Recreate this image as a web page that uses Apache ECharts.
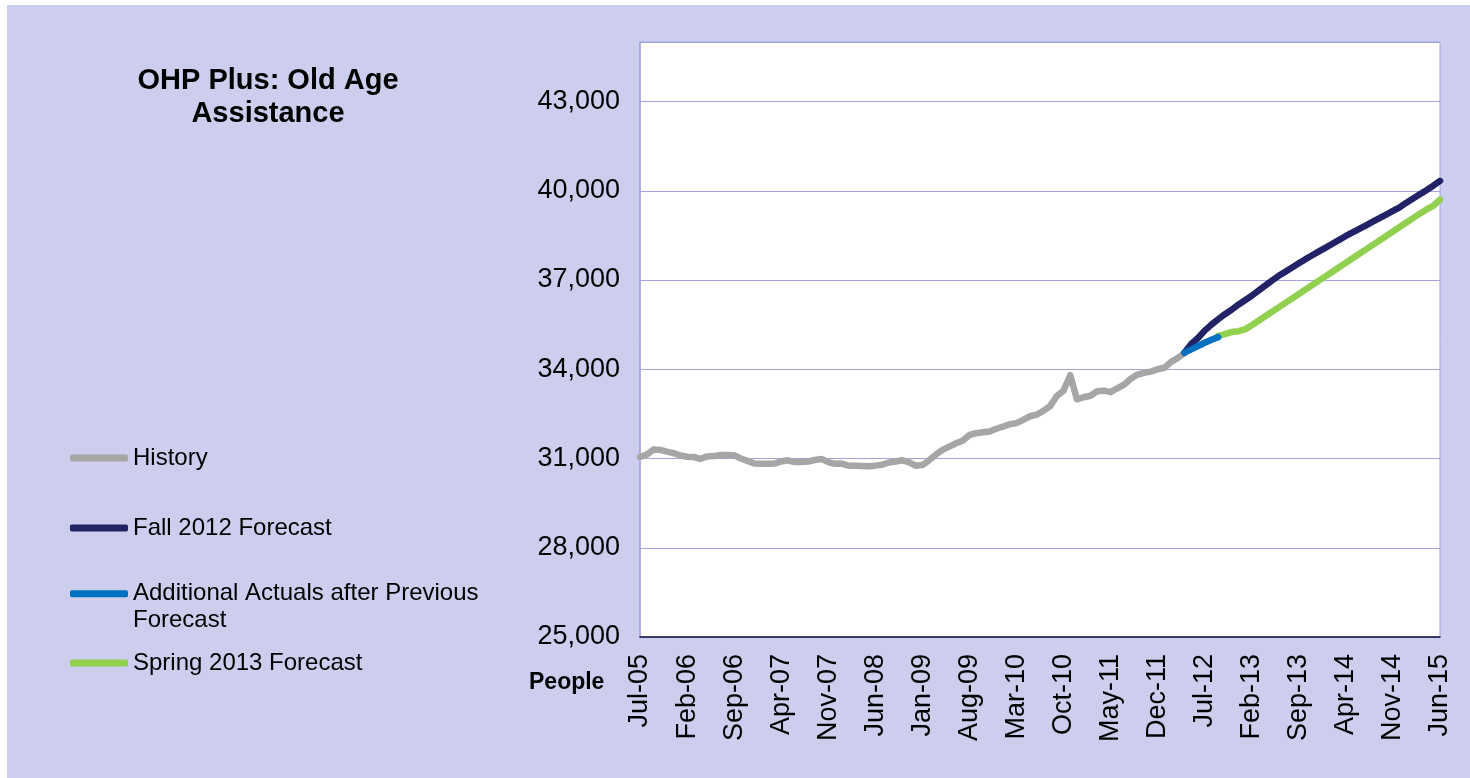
<!DOCTYPE html>
<html style="height:100%">
<head>
    <meta charset="UTF-8">
    <title>OHP Plus: Old Age Assistance</title>
    <script src="https://cdn.jsdelivr.net/npm/echarts@6/dist/echarts.min.js"></script>
</head>
<body style="height:100%;margin:0;background:#ffffff">
    <div id="main" style="width:1470px;height:778px;"></div>
    <script>
        // months Jul-05 .. Jun-15
        var monthNames = ['Jan', 'Feb', 'Mar', 'Apr', 'May', 'Jun', 'Jul', 'Aug', 'Sep', 'Oct', 'Nov', 'Dec'];
        var months = [];
        for (var k = 0; k < 120; k++) {
            var m = (6 + k) % 12;
            var yr = 5 + Math.floor((6 + k) / 12);
            months.push(monthNames[m] + '-' + (yr < 10 ? '0' + yr : '' + yr));
        }

        // History: Jul-05 .. Apr-12
        var historyStart = 0;
        var historyValues = [
            31050, 31130, 31300, 31290, 31230, 31180, 31100, 31060, 31050, 30990,
            31070, 31080, 31120, 31120, 31110, 31000, 30920, 30830, 30820, 30820,
            30830, 30900, 30940, 30880, 30880, 30900, 30950, 30980, 30880, 30820,
            30830, 30760, 30760, 30750, 30740, 30760, 30790, 30860, 30900, 30940,
            30880, 30760, 30780, 30940, 31130, 31290, 31400, 31510, 31600, 31790,
            31850, 31880, 31910, 32000, 32070, 32150, 32190, 32300, 32420, 32470,
            32600, 32760, 33100, 33280, 33800, 32990, 33060, 33110, 33260, 33280,
            33230, 33360, 33480, 33680, 33820, 33880, 33920, 34000, 34050, 34250,
            34380, 34540
        ];

        // Fall 2012 Forecast: Apr-12 .. Jun-15
        var fallStart = 81;
        var fallValues = [
            34560, 34850, 35050, 35300, 35500, 35680, 35850, 36000, 36170, 36320,
            36470, 36640, 36810, 36980, 37140, 37280, 37420, 37560, 37700, 37830,
            37960, 38090, 38220, 38350, 38480, 38600, 38720, 38840, 38960, 39080,
            39200, 39320, 39440, 39600, 39740, 39880, 40020, 40170, 40330
        ];

        // Additional Actuals after Previous Forecast: Apr-12 .. Sep-12
        var actualsStart = 81;
        var actualsValues = [34560, 34670, 34780, 34890, 34990, 35080];

        // Spring 2013 Forecast: Sep-12 .. Jun-15
        var springStart = 86;
        var springValues = [
            35120, 35180, 35250, 35280, 35340, 35480, 35630, 35780, 35930, 36080,
            36230, 36380, 36530, 36680, 36830, 36980, 37130, 37280, 37430, 37580,
            37730, 37880, 38030, 38180, 38330, 38480, 38630, 38780, 38930, 39080,
            39230, 39370, 39490, 39700
        ];

        function pad(start, vals) {
            var out = [];
            for (var i = 0; i < months.length; i++) {
                var j = i - start;
                out.push(j >= 0 && j < vals.length ? vals[j] : null);
            }
            return out;
        }

        var chart = echarts.init(document.getElementById('main'), null, { renderer: 'canvas' });

        var font = 'Liberation Sans, Arial, sans-serif';
        var gridColor = '#a3a3e2';

        function lineSeries(name, color, data, z) {
            return {
                name: name,
                type: 'line',
                data: data,
                showSymbol: false,
                symbol: 'none',
                color: color,
                z: z,
                animation: false,
                lineStyle: { width: 6.5, color: color, cap: 'round', join: 'round' }
            };
        }

        function legendAt(name, top, extra) {
            var l = {
                data: [name],
                left: 70,
                top: top,
                padding: 0,
                icon: 'roundRect',
                itemWidth: 58,
                itemHeight: 7,
                selectedMode: false,
                textStyle: { fontFamily: font, fontSize: 24, color: '#000' }
            };
            if (extra) {
                for (var key in extra) l[key] = extra[key];
            }
            return l;
        }

        var option = {
            backgroundColor: '#ffffff',
            animation: false,
            graphic: [{
                type: 'rect',
                z: -100,
                shape: { x: 7, y: 5, width: 1463, height: 773 },
                style: { fill: '#cdcdee' }
            }],
            title: [{
                text: 'OHP Plus: Old Age\nAssistance',
                left: 268,
                top: 64,
                padding: 0,
                textAlign: 'center',
                textStyle: { fontFamily: font, fontSize: 29, fontWeight: 'bold', color: '#000', lineHeight: 33 }
            }, {
                text: 'People',
                left: 529,
                top: 671,
                padding: 0,
                textStyle: { fontFamily: font, fontSize: 23, fontWeight: 'bold', color: '#000' }
            }],
            legend: [
                legendAt('History', 446),
                legendAt('Fall 2012 Forecast', 516),
                // empty first line keeps the icon level with the first text line
                legendAt('Additional Actuals after Previous Forecast', 554, {
                    formatter: function () { return ' \nAdditional Actuals after Previous\nForecast'; },
                    textStyle: { fontFamily: font, fontSize: 24, color: '#000', lineHeight: 26.5 }
                }),
                legendAt('Spring 2013 Forecast', 651)
            ],
            grid: {
                left: 640,
                right: 30,
                top: 42,
                bottom: 141,
                show: true,
                backgroundColor: '#ffffff',
                borderColor: gridColor,
                borderWidth: 1
            },
            xAxis: {
                type: 'category',
                data: months,
                boundaryGap: false,
                axisLine: { show: true, lineStyle: { color: '#111133', width: 1.5 } },
                axisTick: { show: false },
                axisLabel: {
                    interval: 6,
                    rotate: 90,
                    margin: 17,
                    fontFamily: font,
                    fontSize: 27,
                    color: '#000'
                },
                splitLine: { show: false }
            },
            yAxis: {
                type: 'value',
                min: 25000,
                max: 45000,
                interval: 3000,
                axisLine: { show: true, lineStyle: { color: gridColor, width: 1.5 } },
                axisTick: { show: false },
                axisLabel: {
                    showMaxLabel: false,
                    margin: 20,
                    fontFamily: font,
                    fontSize: 27,
                    color: '#000',
                    formatter: function (v) { return v.toLocaleString('en-US'); }
                },
                splitLine: { show: true, lineStyle: { color: gridColor, width: 1.2 } }
            },
            series: [
                lineSeries('History', '#a6a6a6', pad(historyStart, historyValues), 2),
                lineSeries('Fall 2012 Forecast', '#222266', pad(fallStart, fallValues), 3),
                lineSeries('Additional Actuals after Previous Forecast', '#0070c0', pad(actualsStart, actualsValues), 5),
                lineSeries('Spring 2013 Forecast', '#92d050', pad(springStart, springValues), 4)
            ]
        };
        chart.setOption(option);
    </script>
</body>
</html>
